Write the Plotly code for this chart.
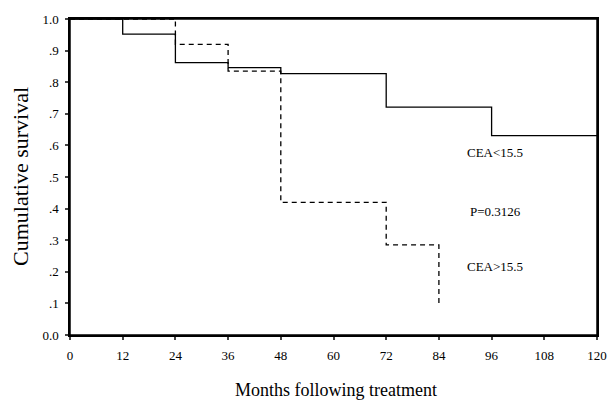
import plotly.graph_objects as go

# Kaplan-Meier step data
low_months = [0, 12, 24, 36, 48, 72, 96, 120]
low_surv = [1.0, 0.952, 0.862, 0.846, 0.827, 0.721, 0.631, 0.631]
high_months = [0, 24, 36, 48, 72, 84]
high_surv = [1.0, 0.92, 0.835, 0.42, 0.285, 0.10]

x_ticks = [0, 12, 24, 36, 48, 60, 72, 84, 96, 108, 120]
y_ticks = [0, 0.1, 0.2, 0.3, 0.4, 0.5, 0.6, 0.7, 0.8, 0.9, 1.0]
y_ticktext = ["0.0", ".1", ".2", ".3", ".4", ".5", ".6", ".7", ".8", ".9", "1.0"]

labels = ["CEA<15.5", "P=0.3126", "CEA>15.5"]
label_x = [96.8, 96.8, 96.8]
label_y = [0.577, 0.39, 0.216]

x_title = "Months following treatment"
y_title = "Cumulative survival"

FONT = "Liberation Serif"

fig = go.Figure()
fig.add_trace(go.Scatter(x=low_months, y=low_surv, mode="lines", line_shape="hv",
                         line=dict(color="black", width=1.3), showlegend=False))
fig.add_trace(go.Scatter(x=high_months, y=high_surv, mode="lines", line_shape="hv",
                         line=dict(color="black", width=1.3, dash="5px,4px"), showlegend=False))

for t, xx, yy in zip(labels, label_x, label_y):
    fig.add_annotation(x=xx, y=yy, text=t, showarrow=False,
                       font=dict(family=FONT, size=13, color="black"))

fig.add_annotation(x=0.504, y=0, xref="paper", yref="paper", text=x_title, showarrow=False,
                   xanchor="center", yanchor="middle", yshift=-55,
                   font=dict(family=FONT, size=18, color="black"))
fig.add_annotation(x=0, y=0.5, xref="paper", yref="paper", text=y_title, showarrow=False,
                   textangle=-90, xanchor="center", yanchor="middle", xshift=-50, yshift=0,
                   font=dict(family=FONT, size=22, color="black"))

# plot frame
fig.add_shape(type="rect", xref="paper", yref="paper", x0=0, y0=0, x1=1, y1=1,
              line=dict(color="black", width=1.5), layer="above")

fig.update_layout(
    width=609, height=401,
    margin=dict(l=70, r=12, t=19, b=66),
    paper_bgcolor="white", plot_bgcolor="white",
    font=dict(family=FONT, color="black"),
)
fig.update_xaxes(range=[0, 120], tickvals=x_ticks, ticks="outside", ticklen=3, tickwidth=2,
                 ticklabelstandoff=5, automargin=False, ticklabeloverflow="allow",
                 showgrid=False, zeroline=False, showline=True, linecolor="black", linewidth=1.5,
                 mirror=True, tickfont=dict(family=FONT, size=13, color="black"))
fig.update_yaxes(range=[0, 1.0], tickvals=y_ticks, ticktext=y_ticktext, ticks="outside", ticklen=3,
                 tickwidth=2, ticklabelstandoff=4, automargin=False, showgrid=False, zeroline=False,
                 showline=True, linecolor="black", linewidth=1.5, mirror=True,
                 tickfont=dict(family=FONT, size=13, color="black"))

fig.write_html("out.html")
